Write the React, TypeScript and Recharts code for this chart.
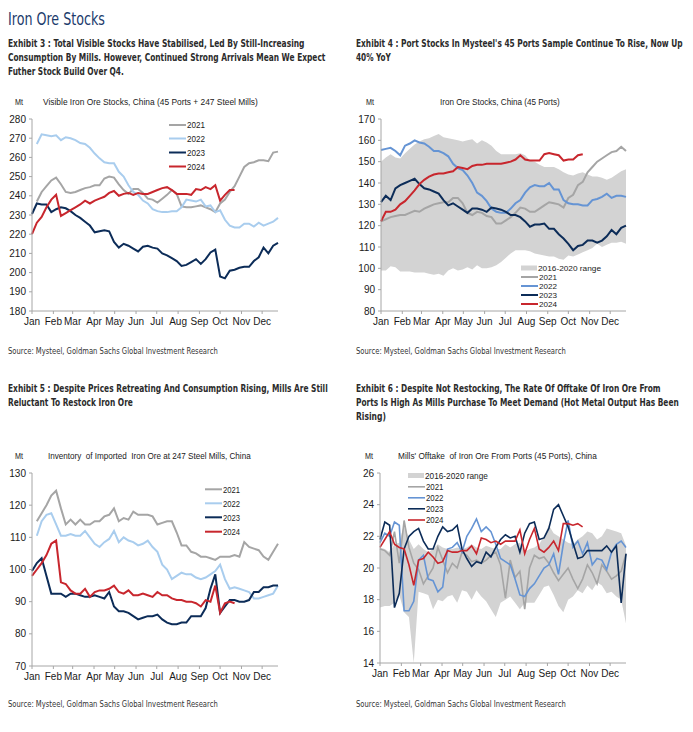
import React, { useLayoutEffect, useRef, useState } from 'react';
import { ComposedChart, Line, Area, XAxis, YAxis } from 'recharts';

// weekly points, 0 = first week of January
const weeks = [0, 1, 2, 3, 4, 5, 6, 7, 8, 9, 10, 11, 12, 13, 14, 15, 16, 17, 18, 19, 20, 21, 22, 23, 24, 25,
  26, 27, 28, 29, 30, 31, 32, 33, 34, 35, 36, 37, 38, 39, 40, 41, 42, 43, 44, 45, 46, 47, 48, 49, 50, 51];
const monthTicks = [0, 4.43, 8.43, 12.86, 17.14, 21.57, 25.86, 30.29, 34.71, 39, 43.43, 47.71];
const monthLabels = ['Jan', 'Feb', 'Mar', 'Apr', 'May', 'Jun', 'Jul', 'Aug', 'Sep', 'Oct', 'Nov', 'Dec'];

const N9 = [null, null, null, null, null, null, null, null, null];

// Exhibit 3: visible stocks (ports + mills), Mt
const vis2021 = [null, 237, 242, 245, 248, 249.5, 246, 242, 241.5, 242, 243, 244, 244.5, 245.5, 245.5, 249, 250, 249.5, 246, 243, 241, 243.5, 243.5, 241.5, 238.5, 238, 236.5, 238.5, 240.5, 243, 241, 234.5, 234, 234, 234.5, 235, 234, 233, 231.5, 236, 238, 242, 245, 250, 255, 257, 257.5, 258.5, 258.5, 258, 262.5, 263];
const vis2022 = [null, 267, 272, 271.5, 271, 271.5, 269, 270.5, 270, 269, 267.5, 267, 265, 262, 259.5, 257.5, 257, 257, 252.5, 250, 245.5, 242, 240.5, 237.5, 236, 233, 232, 231.5, 231.5, 232, 232, 234, 238, 237.5, 237, 238, 234.5, 235, 231.5, 232.5, 227.5, 224.5, 223.5, 223.5, 225.5, 225.5, 224, 226, 224.5, 225.5, 226.5, 228.5];
const vis2023 = [230.5, 236, 235.5, 235.5, 231.5, 233, 234, 233.5, 232, 230, 228.5, 226.5, 224.5, 221, 221.5, 222, 221.5, 216, 213, 215, 214, 212.5, 211, 213.5, 214, 213, 212.5, 210, 209, 207.5, 206, 203.5, 204, 205.5, 207, 204.5, 207, 210.5, 212, 198, 197, 201, 201.5, 202.5, 203, 203, 206, 208, 213, 210, 214, 215.5];
const vis2024 = [220, 226, 229, 234, 238, 240.5, 229.5, 231, 232.5, 234, 235.5, 237.5, 236, 237.5, 238.5, 239.5, 241.5, 242.5, 240, 241, 241.5, 240.5, 241.5, 241, 241, 242, 243, 244, 244.5, 243, 241, 241, 241, 240.5, 243.5, 243, 244.5, 243.5, 245.5, 237.5, 240.5, 243, 243, ...N9];

// Exhibit 4: port stocks (45 ports), Mt
const portLo = [99, 99, 101, 100.5, 98.5, 98.5, 98.5, 98, 98, 98, 97.5, 97, 97.5, 96.5, 99, 100, 99, 99.5, 100.5, 99.5, 101.5, 100, 100, 100.5, 101.5, 103, 105, 107, 108.5, 108.5, 108.5, 108, 107, 106.5, 106, 105.5, 105.5, 104.5, 104, 106, 105.5, 106.5, 107.5, 108.5, 109.5, 111.5, 110, 111, 112, 112, 112.5, 111.5];
const portHi = [150, 152, 153.5, 152, 151.5, 154, 156, 158, 159.5, 160.5, 161, 162, 163, 161.5, 161, 160.5, 160, 159.5, 160, 160.5, 158.5, 160, 159, 157.5, 155, 153.5, 153.5, 153.5, 153.5, 154, 153, 150.5, 150, 148.5, 147.5, 147.5, 147.5, 146.5, 145, 144, 143.5, 144.5, 145, 144, 143, 143, 142.5, 141.5, 142.5, 144, 145.5, 146.5];
const port2021 = [122, 123, 124, 124.5, 125, 125, 126, 127, 126.5, 128, 129, 130, 130.5, 131, 131, 133, 133, 130.5, 126, 125, 126.5, 126, 124.5, 124, 121, 121, 122.5, 124, 126, 128.5, 128, 126.5, 126.5, 128, 129.5, 131, 130.5, 130, 128.5, 133, 134.5, 139, 140.5, 145, 147.5, 150, 151.5, 153, 154.5, 155, 157, 155];
const port2022 = [155.5, 156, 156.5, 155, 153, 157.5, 158.5, 160, 159, 158.5, 157, 155, 155, 154, 152.5, 149, 147, 146, 143.5, 140, 135.5, 134, 131.5, 128, 126.5, 126, 126, 128, 130.5, 132, 135.5, 138, 139, 138.5, 138.5, 140, 137, 137, 132, 130.5, 130, 130, 129.5, 129.5, 132, 132.5, 133.5, 135, 133, 134, 134, 133.5];
const port2023 = [131, 134, 132, 137.5, 139, 140, 141, 142, 139.5, 137.5, 137, 136, 135, 132, 129.5, 130.5, 129, 127.5, 126, 128, 128, 127.5, 126.5, 128.5, 128, 127.5, 126.5, 125, 125, 124, 122, 119.5, 120.5, 120.5, 121, 118.5, 118.5, 116, 114, 111.5, 108.5, 110.5, 111, 113, 113, 112, 113, 115, 118, 116, 119, 120];
const port2024 = [122, 126.5, 126.5, 127.5, 130, 131.5, 134, 136.5, 139.5, 141.5, 143, 144, 144.5, 144.5, 145, 145.5, 147.5, 147, 146.5, 148, 148.5, 148.5, 149, 149, 149, 149, 149.5, 150, 151, 153, 151, 150.5, 150.5, 150.5, 153.5, 154, 153.5, 153, 150.5, 151, 151, 153, 153.5, ...N9];

// Exhibit 5: imported ore at 247 mills, Mt
const mill2021 = [null, 115, 117.5, 120, 123, 124.5, 119, 114, 115.5, 114, 115.5, 114, 114, 115, 115, 116.5, 117, 119, 115, 116, 115.5, 118, 117, 117, 117, 116.5, 114, 114.5, 115, 115, 111.5, 107.5, 107.5, 105.5, 105, 104, 104, 103.5, 103, 104, 104, 104, 104.5, 104, 108.5, 107, 106.5, 106, 104, 103, 105.5, 108];
const mill2022 = [null, 110.5, 115, 117, 117.5, 114, 110.5, 110.5, 111, 110.5, 110.5, 112, 110, 108, 107, 108.5, 109.5, 112, 108.5, 110, 109, 108.5, 107.5, 108, 109, 107, 105.5, 101.5, 100, 97, 98, 99, 98.5, 98.5, 97.5, 97, 97.5, 98.5, 99.5, 101.5, 97, 94, 94.5, 94, 93.5, 93, 91, 91, 91.5, 92, 92.5, 95];
const mill2023 = [99.5, 102, 103.5, 98, 92.5, 92.5, 92.5, 91.5, 92.5, 92.5, 92, 91.5, 91.5, 92, 91.5, 91, 93, 88.5, 87, 87, 86.5, 85.5, 84.5, 85, 85.5, 85.5, 86, 84.5, 83.5, 83, 83, 83.5, 83.5, 85.5, 85.5, 85.5, 88, 94, 98.5, 86.5, 88.5, 90.5, 90.5, 90, 90, 90.5, 93, 93, 94.5, 94.5, 95, 95];
const mill2024 = [98, 100, 102, 104.5, 108, 109, 96, 95.5, 93.5, 92.5, 92.5, 94, 91.5, 93, 93.5, 93.5, 94, 95, 93, 92.5, 93.5, 92, 92, 92.5, 92, 91.5, 93, 92, 92, 91, 90.5, 90.5, 90, 90, 89.5, 88.5, 90.5, 90, 95, 86.5, 89.5, 90, 89.5, ...N9];

// Exhibit 6: mills' offtake from ports, Mt
const offLo = [17.5, 17.6, 17.6, 17.8, 18.3, 17.2, 16.9, 14, 18.5, 18.4, 18.3, 17.4, 18, 17.9, 18.2, 18.3, 17.8, 18.6, 18.5, 18, 18.6, 18.2, 17.9, 17.4, 16.9, 17.8, 18, 18.2, 17.8, 17.4, 17.8, 17.8, 17.8, 18.3, 18.8, 18.9, 18.3, 17.6, 17.2, 18, 18.2, 18.6, 18.4, 18.9, 18.6, 19.1, 18.9, 18.4, 18.5, 18.2, 18, 16.5];
const offHi = [21.3, 21.2, 21, 21.5, 21.6, 22.8, 21.8, 21.2, 21.5, 21.2, 21, 21.2, 21.5, 21.3, 21.2, 21.2, 21.3, 21.2, 21.3, 21.5, 21.3, 21.2, 21.4, 21.3, 21.2, 21.2, 21.5, 21.3, 21.5, 21.6, 21, 21.2, 21.3, 21.5, 22, 22.7, 22.2, 22, 21.8, 21.6, 21.5, 21.8, 22, 22.3, 22.2, 21.8, 22, 22.5, 22.4, 22.3, 22.2, 21.4];
const off2021 = [21.2, 21.1, 20.8, 22.3, 20.3, 23, 21.3, 20.3, 19.9, 19, 19.5, 20, 21.3, 20.5, 19.7, 20.3, 20, 21, 20.8, 20.4, 20.5, 20.3, 20.5, 20.8, 21, 20.2, 18.1, 20.5, 19.4, 19.8, 17.4, 20, 20.8, 20.6, 20.7, 20.3, 19.7, 19.2, 19.6, 20, 19.3, 18.7, 19.3, 20.2, 19.7, 19, 20.2, 19.8, 19.3, 19.5, 19.8, 20.9];
const off2022 = [21.6, 22.2, 22, 22.9, 22.7, 17.3, 17.3, 17.9, 20.5, 20.8, 19.3, 19.2, 18.5, 18.8, 21.2, 21.3, 21.6, 21, 22, 22.5, 23.1, 22.3, 22.6, 22.3, 21.5, 20.6, 20.4, 20.2, 19.3, 18.3, 18.2, 18.7, 19, 19.5, 20, 20.2, 20.9, 19.6, 21.5, 23, 21.3, 21.7, 20.9, 21.6, 20.2, 20.6, 20.5, 19.9, 21, 21.5, 21.7, 21.3];
const off2023 = [21.8, 22.9, 22.7, 17.5, 18.4, 21.2, 22, 22.3, 22.5, 21.7, 21.2, 21.2, 22, 22.6, 22.3, 22.4, 22.7, 21.2, 20.6, 20.1, 20.4, 20.3, 21, 20.7, 21.3, 21.8, 22.1, 21.9, 22, 21, 22.2, 22.8, 22.9, 21.8, 21.9, 22.5, 23.7, 24, 23.3, 22.6, 21.6, 20.6, 20.7, 21.1, 21.1, 21.1, 21.1, 21.4, 21, 21.4, 17.8, 20.9];
const off2024 = [21.3, 21.8, 22.3, 21.5, 21.3, 21.2, 20.2, 18.9, 20.5, 20.6, 21, 20.7, 20.3, 20.4, 21.1, 21, 21, 21.1, 21.1, 21.4, 20.9, 21.9, 21.8, 21.6, 21.7, 21.5, 21.7, 21.7, 21.7, 22.4, 20.9, 21.8, 22.5, 21.2, 21, 21.3, 21.7, 21.1, 22.8, 22.8, 22.7, 22.8, 22.6, ...N9];

const visTicks = [180, 190, 200, 210, 220, 230, 240, 250, 260, 270, 280];
const portTicks = [80, 90, 100, 110, 120, 130, 140, 150, 160, 170];
const millTicks = [70, 80, 90, 100, 110, 120, 130];
const offTicks = [14, 16, 18, 20, 22, 24, 26];

const GREY = '#a5a5a5';
const PALE = '#a9cdee';
const MID = '#6594d4';
const NAVY = '#0c2c58';
const RED = '#c8262d';
const BAND = '#d3d3d3';
const AXIS = '#a6a6a6';
const SANS = "'Liberation Sans', Arial, sans-serif";
const NARROW = "'Liberation Sans Narrow', 'DejaVu Sans Condensed', sans-serif";

const build = (a: any[], b: any[], c: any[], d: any[], lo?: number[], hi?: number[]) =>
  weeks.map((w, i) => ({
    w, y2021: a[i], y2022: b[i], y2023: c[i], y2024: d[i],
    band: lo && hi ? [lo[i], hi[i]] : undefined,
  }));

const visData = build(vis2021, vis2022, vis2023, vis2024);
const portData = build(port2021, port2022, port2023, port2024, portLo, portHi);
const millData = build(mill2021, mill2022, mill2023, mill2024);
const offData = build(off2021, off2022, off2023, off2024, offLo, offHi);

const monthOf = (v: number) => monthLabels[monthTicks.indexOf(v)] ?? '';

type Props = {
  x0: number; y0: number; x1: number; y1: number;
  data: any[]; domain: [number, number]; ticks: number[];
  blue: string; lw: number; band?: boolean; fs?: number;
};

function Panel({ x0, y0, x1, y1, data, domain, ticks, blue, lw, band, fs = 10 }: Props) {
  const yw = 34, mt = 6, mr = 6, xh = 24;
  const w = x1 - x0 + yw + mr;
  const h = y1 - y0 + mt + xh;
  const tick = { fontSize: fs, fill: '#1a1a1a', fontFamily: SANS };
  return (
    <div style={{ position: 'absolute', left: x0 - yw, top: y0 - mt }}>
      <ComposedChart width={w} height={h} data={data} margin={{ top: mt, right: mr, bottom: 0, left: 0 }}>
        {band && (
          <Area type="linear" dataKey="band" stroke="none" fill={BAND} fillOpacity={1}
            isAnimationActive={false} activeDot={false} />
        )}
        <XAxis dataKey="w" type="number" domain={[0, 51]} ticks={monthTicks} interval={0}
          tickFormatter={monthOf} height={xh} tickSize={3} tickMargin={4} stroke={AXIS} tick={tick} />
        <YAxis type="number" domain={domain} ticks={ticks} interval={0} width={yw} tickSize={3}
          tickMargin={3} stroke={AXIS} tick={tick} allowDataOverflow />
        <Line type="linear" dataKey="y2021" stroke={GREY} strokeWidth={lw} dot={false} activeDot={false} isAnimationActive={false} />
        <Line type="linear" dataKey="y2022" stroke={blue} strokeWidth={lw} dot={false} activeDot={false} isAnimationActive={false} />
        <Line type="linear" dataKey="y2023" stroke={NAVY} strokeWidth={lw} dot={false} activeDot={false} isAnimationActive={false} />
        <Line type="linear" dataKey="y2024" stroke={RED} strokeWidth={lw} dot={false} activeDot={false} isAnimationActive={false} />
      </ComposedChart>
    </div>
  );
}

// text squeezed/stretched horizontally to the width it has in the reference
function T({ x, y, w, size, bold, family = NARROW, fill = '#2b2b2b', children }: any) {
  const ref = useRef<SVGTextElement>(null);
  const [k, setK] = useState(1);
  useLayoutEffect(() => {
    const len = ref.current ? ref.current.getComputedTextLength() : 0;
    if (len > 0) setK(w / len);
  }, [w]);
  return (
    <text ref={ref} transform={`translate(${x},${y}) scale(${k},1)`} fontSize={size}
      fontWeight={bold ? 700 : 400} fontFamily={family} fill={fill} style={{ whiteSpace: 'pre' }}>
      {children}
    </text>
  );
}

function LegendRows({ x, ys, blue, lw, band, tw, size = 9.5 }: any) {
  const rows = [['2021', GREY], ['2022', blue], ['2023', NAVY], ['2024', RED]];
  const off = band ? 1 : 0;
  const dy = size * 0.35;
  return (
    <g>
      {band && (
        <g>
          <rect x={x} y={ys[0] - 2.5} width={16} height={5} fill={BAND} />
          <T x={x + 17} y={ys[0] + dy} w={63} size={size} family={SANS} fill="#1a1a1a">2016-2020 range</T>
        </g>
      )}
      {rows.map(([name, color], i) => (
        <g key={name}>
          <line x1={x} x2={x + 17} y1={ys[i + off]} y2={ys[i + off]} stroke={color} strokeWidth={lw} />
          <T x={x + 18} y={ys[i + off] + dy} w={tw} size={size} family={SANS} fill="#1a1a1a">{name}</T>
        </g>
      ))}
    </g>
  );
}

const SOURCE = 'Source: Mysteel, Goldman Sachs Global Investment Research';

export default function App() {
  return (
    <div style={{ position: 'absolute', left: 0, top: 0, width: 693, height: 732, background: '#fff', overflow: 'hidden' }}>
      <Panel x0={32} y0={119} x1={278} y1={311} data={visData} domain={[180, 280]} ticks={visTicks} blue={PALE} lw={2} />
      <Panel x0={381} y0={119} x1={626} y1={311} data={portData} domain={[80, 170]} ticks={portTicks} blue={MID} lw={2} band />
      <Panel x0={32} y0={473} x1={278} y1={666} data={millData} domain={[70, 130]} ticks={millTicks} blue={PALE} lw={2} />
      <Panel x0={380} y0={473} x1={626} y1={663} data={offData} domain={[14, 26]} ticks={offTicks} blue={MID} lw={1.6} band />

      <svg width={693} height={732} style={{ position: 'absolute', left: 0, top: 0, pointerEvents: 'none' }}>
        <T x={8} y={25} w={97} size={18.5} fill="#1c3b6c">Iron Ore Stocks</T>

        <T x={8} y={46.5} w={297} size={10.5} bold>Exhibit 3 : Total Visible Stocks Have Stabilised, Led By Still-Increasing</T>
        <T x={8} y={60.5} w={318} size={10.5} bold>Consumption By Mills. However, Continued Strong Arrivals Mean We Expect</T>
        <T x={8} y={74.5} w={116} size={10.5} bold>Futher Stock Build Over Q4.</T>

        <T x={356} y={46.5} w={327} size={10.5} bold>Exhibit 4 : Port Stocks In Mysteel's 45 Ports Sample Continue To Rise, Now Up</T>
        <T x={356} y={60.5} w={35} size={10.5} bold>40% YoY</T>

        <T x={15} y={105.2} w={8} size={8.5} family={SANS} fill="#1a1a1a">Mt</T>
        <T x={43} y={105.2} w={215} size={8.5} family={SANS} fill="#1a1a1a">Visible Iron Ore Stocks, China (45 Ports + 247 Steel Mills)</T>
        <T x={366} y={105.2} w={8} size={8.5} family={SANS} fill="#1a1a1a">Mt</T>
        <T x={440} y={105.2} w={120} size={8.5} family={SANS} fill="#1a1a1a">Iron Ore Stocks, China (45 Ports)</T>

        <T x={8} y={353.5} w={210} size={9} fill="#333">{SOURCE}</T>
        <T x={356} y={353.5} w={210} size={9} fill="#333">{SOURCE}</T>

        <T x={8} y={392} w={320} size={10.5} bold>Exhibit 5 : Despite Prices Retreating And Consumption Rising, Mills Are Still</T>
        <T x={8} y={406} w={125} size={10.5} bold>Reluctant To Restock Iron Ore</T>

        <T x={356} y={392} w={305} size={10.5} bold>Exhibit 6 : Despite Not Restocking, The Rate Of Offtake Of Iron Ore From</T>
        <T x={356} y={406} w={323} size={10.5} bold>Ports Is High As Mills Purchase To Meet Demand (Hot Metal Output Has Been</T>
        <T x={356} y={420} w={30} size={10.5} bold>Rising)</T>

        <T x={15} y={459} w={8} size={8.5} family={SANS} fill="#1a1a1a">Mt</T>
        <T x={48} y={459} w={203} size={8.5} family={SANS} fill="#1a1a1a">Inventory  of Imported  Iron Ore at 247 Steel Mills, China</T>
        <T x={365} y={459} w={8} size={8.5} family={SANS} fill="#1a1a1a">Mt</T>
        <T x={398} y={459} w={199} size={8.5} family={SANS} fill="#1a1a1a">Mills' Offtake  of Iron Ore From Ports (45 Ports), China</T>

        <T x={8} y={706.5} w={210} size={9} fill="#333">{SOURCE}</T>
        <T x={356} y={706.5} w={210} size={9} fill="#333">{SOURCE}</T>

        <LegendRows x={169} ys={[125, 138.5, 152.5, 166.5]} blue={PALE} lw={2} tw={18} />
        <LegendRows x={521} ys={[268, 277, 286, 295, 304]} blue={MID} lw={2} tw={18} size={7.7} band />
        <LegendRows x={205} ys={[489.3, 503.3, 517.3, 531.7]} blue={PALE} lw={2} tw={17} />
        <LegendRows x={408} ys={[475.5, 486.8, 497.8, 508.8, 520]} blue={MID} lw={1.6} tw={17.5} size={9} band />
      </svg>
    </div>
  );
}
